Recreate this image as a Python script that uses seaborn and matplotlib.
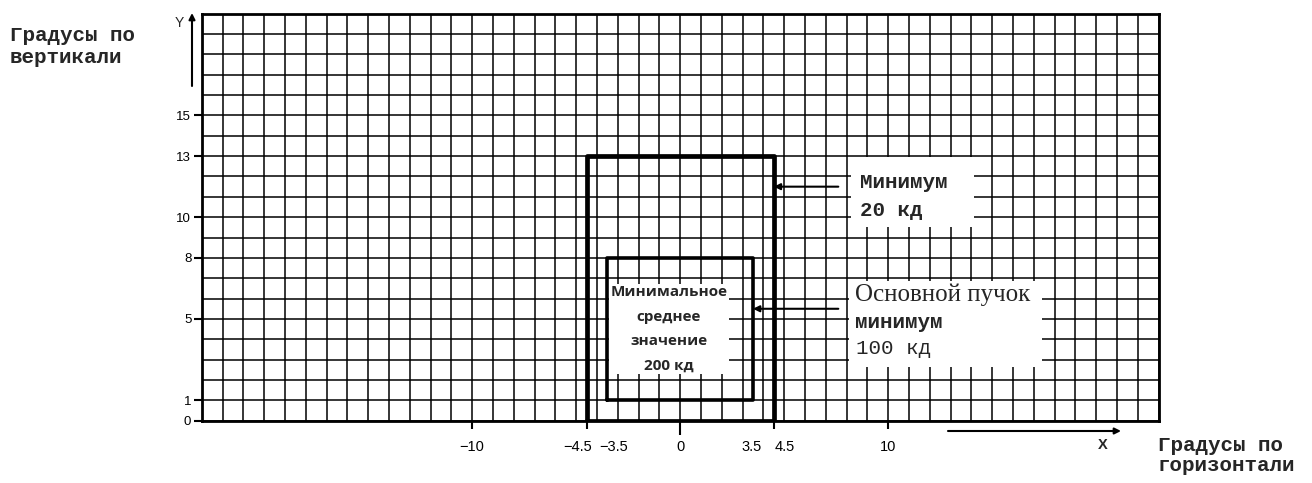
import numpy as np
import pandas as pd
import matplotlib
matplotlib.use("Agg")
import matplotlib.pyplot as plt
import matplotlib.transforms as mtransforms
from matplotlib.ticker import MultipleLocator
from matplotlib.patches import Rectangle
import seaborn as sns

# ---------------- data ----------------
box_names = ["outer", "inner"]
box_x_min = [-4.5, -3.5]
box_x_max = [4.5, 3.5]
box_y_min = [0, 1]
box_y_max = [13, 8]

x_ticks = [-10, -4.5, -3.5, 0, 3.5, 4.5, 10]
x_tick_labels = ["−10", "−4.5", "−3.5", "0", "3.5", "4.5", "10"]
y_ticks = [0, 1, 5, 8, 10, 13, 15]
y_tick_labels = ["0", "1", "5", "8", "10", "13", "15"]

x_range = [-23, 23]
y_range = [0, 20]

inner_label = "Минимальное\nсреднее\nзначение\n200 кд"
outer_label = ["Минимум", "20 кд"]
main_label = ["Основной пучок", "минимум", "100 кд"]
y_axis_title = "Градусы по\nвертикали"
x_axis_title = "Градусы по\nгоризонтали"

# ---------------- build outline table ----------------
rows = []
for name, x0, x1, y0, y1 in zip(box_names, box_x_min, box_x_max, box_y_min, box_y_max):
    corners = [(x0, y0), (x0, y1), (x1, y1), (x1, y0), (x0, y0)]
    for i, (cx, cy) in enumerate(corners):
        rows.append({"box": name, "order": i, "x": cx, "y": cy})
df = pd.DataFrame(rows)

# ---------------- figure ----------------
sns.set_theme(style="white")
plt.rcParams["font.family"] = ["DejaVu Sans"]

W, H = 1312, 483
fig = plt.figure(figsize=(W / 100, H / 100), dpi=100)
ax = fig.add_axes([201.7 / W, 1 - 420.7 / H, 957 / W, 407 / H])

# grid (every unit)
ax.set_xlim(*x_range)
ax.set_ylim(*y_range)
ax.xaxis.set_minor_locator(MultipleLocator(1))
ax.yaxis.set_minor_locator(MultipleLocator(1))
ax.xaxis.remove_overlapping_locs = False
ax.yaxis.remove_overlapping_locs = False
ax.grid(False, which="major")
ax.grid(True, which="minor", color="black", linewidth=1.1)
ax.set_axisbelow(True)

# white backgrounds behind callout labels
mono = "Liberation Mono"
ax.add_patch(Rectangle((8.2, 9.5), 5.9, 3.45, facecolor="white", edgecolor="none", zorder=1))
ax.add_patch(Rectangle((8.1, 2.65), 9.3, 4.2, facecolor="white", edgecolor="none", zorder=1))

# boxes
sns.lineplot(data=df, x="x", y="y", hue="box", size="box",
             palette={"outer": "black", "inner": "black"},
             sizes={"outer": 3.4, "inner": 2.6},
             sort=False, estimator=None, legend=False, ax=ax, zorder=5)

# ticks
ax.set_xticks(x_ticks)
ax.set_xticklabels(x_tick_labels, family="Liberation Sans", fontsize=10.5)
ax.set_yticks(y_ticks)
ax.set_yticklabels(y_tick_labels, family="Liberation Sans", fontsize=9.5)
ax.tick_params(axis="both", which="minor", length=0)
ax.tick_params(axis="x", which="major", bottom=True, direction="out", length=6,
               width=1.5, pad=8, color="black", labelcolor="black")
ax.tick_params(axis="y", which="major", left=True, direction="out", length=6,
               width=1.5, pad=1.5, color="black", labelcolor="black")
ax.set_xlabel("")
ax.set_ylabel("")
xt = ax.xaxis.get_major_ticks()
for i in (2, 4):
    xt[i].tick1line.set_visible(False)
xt[3].tick1line.set_markersize(10)

offsets_px = [0, -9, 6, 0, -1, 11, 0]
for lab, dx in zip(ax.get_xticklabels(), offsets_px):
    lab.set_transform(lab.get_transform() +
                      mtransforms.ScaledTranslation(dx / 100, 0, fig.dpi_scale_trans))

for s in ax.spines.values():
    s.set_visible(True)
    s.set_color("black")
    s.set_linewidth(2)

# texts inside
ax.text(-0.55, 4.5, inner_label, ha="center", va="center", family="Open Sans",
        fontweight="bold", fontsize=11, linespacing=1.95, zorder=4,
        bbox=dict(facecolor="white", edgecolor="none", pad=1))

ax.text(8.65, 11.7, outer_label[0], ha="left", va="center", family=mono,
        fontweight="bold", fontsize=15, zorder=4)
ax.text(8.65, 10.35, outer_label[1], ha="left", va="center", family=mono,
        fontweight="bold", fontsize=15, zorder=4)

ax.text(8.4, 6.2, main_label[0], ha="left", va="center", family="Liberation Serif",
        fontsize=18, zorder=4)
ax.text(8.4, 4.85, main_label[1], ha="left", va="center", family=mono,
        fontweight="bold", fontsize=15, zorder=4)
ax.text(8.45, 3.57, main_label[2], ha="left", va="center", family=mono,
        fontsize=15, zorder=4)

arrow = dict(arrowstyle="-|>", lw=1.5, color="black", mutation_scale=9,
             shrinkA=0, shrinkB=0)
ax.annotate("", xy=(box_x_max[0], 11.5), xytext=(7.6, 11.5), arrowprops=arrow, zorder=6)
ax.annotate("", xy=(box_x_max[1], 5.5), xytext=(7.6, 5.5), arrowprops=arrow, zorder=6)

# outside texts & arrows (figure pixels, origin bottom-left)
def fp(x, y):
    return (x, H - y)

fig.text(10 / W, 1 - 26 / H, y_axis_title, ha="left", va="top", family=mono,
         fontweight="bold", fontsize=15, linespacing=1.2)
fig.text(1158 / W, 1 - 436 / H, x_axis_title, ha="left", va="top", family=mono,
         fontweight="bold", fontsize=15, linespacing=1.08)

fig.text(179 / W, 1 - 23 / H, "Y", ha="center", va="center", family="Liberation Sans",
         fontsize=10)
fig.text(1103 / W, 1 - 445 / H, "X", ha="center", va="center", family="Liberation Sans",
         fontweight="bold", fontsize=10.5)

ax.annotate("", xy=fp(192, 13), xytext=fp(192, 86), xycoords="figure pixels",
            textcoords="figure pixels",
            arrowprops=dict(arrowstyle="-|>", lw=1.5, color="black", mutation_scale=9,
                            shrinkA=0, shrinkB=0), annotation_clip=False)
ax.annotate("", xy=fp(1121, 431), xytext=fp(948, 431), xycoords="figure pixels",
            textcoords="figure pixels",
            arrowprops=dict(arrowstyle="-|>", lw=1.5, color="black", mutation_scale=9,
                            shrinkA=0, shrinkB=0), annotation_clip=False)

fig.savefig("out.png", dpi=100, facecolor="white")
